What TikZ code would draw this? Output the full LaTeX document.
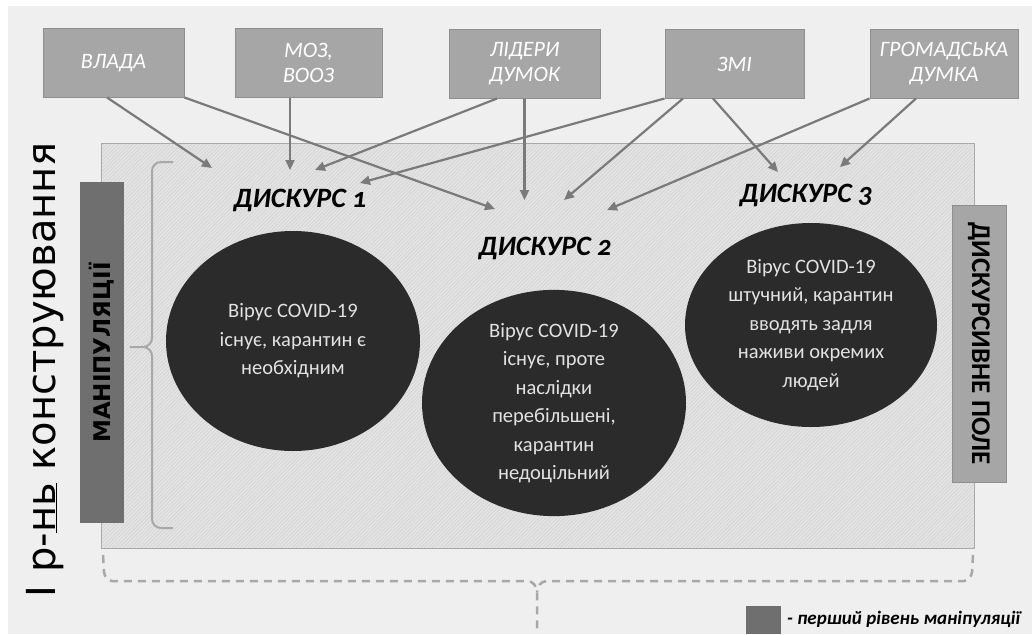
\documentclass[tikz,border=0pt]{standalone}
\usepackage{fontspec}
\setmainfont{Carlito}
\newfontfamily\dejavu{DejaVu Sans}
\newfontfamily\discfont[Numbers=OldStyle]{Carlito}
\usetikzlibrary{shapes.geometric,arrows.meta,patterns.meta}
\definecolor{bgc}{HTML}{EFEFEF}
\definecolor{fieldc}{HTML}{E4E4E4}
\definecolor{hatchc}{HTML}{D2D2D2}
\definecolor{fieldline}{HTML}{A9A9A9}
\definecolor{boxc}{HTML}{A6A6A6}
\definecolor{boxline}{HTML}{8E8E8E}
\definecolor{darkbox}{HTML}{6F6F6F}
\definecolor{arrc}{HTML}{7A7A7A}
\definecolor{ellc}{HTML}{2B2B2B}
\definecolor{elltext}{HTML}{E2E2E2}
\definecolor{bracec}{HTML}{A8A8A8}
\tikzset{
  topbox/.style={draw=boxline, line width=1pt, fill=boxc, text=white, align=center,
    minimum height=68pt, inner sep=0pt, font=\itshape\fontsize{22pt}{25pt}\selectfont},
  arr/.style={draw=arrc, line width=2.2pt, -{Triangle[length=10pt,width=9pt]}},
  discell/.style={ellipse, fill=ellc, text=elltext, align=center, inner sep=0pt,
    font=\fontsize{20.5pt}{28.5pt}\selectfont},
  disclabel/.style={font=\discfont\bfseries\itshape\fontsize{28pt}{30pt}\selectfont, inner sep=0pt},
  bracepath/.style={draw=bracec, line width=2pt},
  dashbrace/.style={draw=bracec, line width=2.5pt, dash pattern=on 8pt off 6pt}
}
\begin{document}
\begin{tikzpicture}[x=1pt,y=-1pt]
\useasboundingbox (0,0) rectangle (1032,634);
\fill[white] (0,0) rectangle (1032,634);
\fill[bgc] (8,6) rectangle (1032,634);

% discursive field
\fill[fieldc] (101,143) rectangle (974,548);
\fill[pattern={Lines[angle=45,distance=2.6pt,line width=0.6pt]}, pattern color=hatchc] (101,143) rectangle (974,548);
\node[draw=fieldline, line width=1pt, minimum width=873pt, minimum height=405pt, inner sep=0pt] (field) at (537.5,345.5) {};

% left big label
\node[rotate=90, anchor=base, inner sep=0pt, font=\dejavu\fontsize{40pt}{44pt}\selectfont] (level) at (55,370) {І р-\underline{нь} конструювання};

% manipulation box
\node[rotate=90, fill=darkbox, minimum width=341pt, minimum height=44pt, inner sep=0pt,
  font=\dejavu\bfseries\fontsize{23pt}{25pt}\selectfont] (manip) at (102,352.5) {МАНІПУЛЯЦІЇ};

% brace
\draw[bracepath] (173,162) -- (161,162) to[out=180,in=90] (152,171) -- (152,338)
  to[out=-90,in=0] (143,347) -- (130,347);
\draw[bracepath] (143,347) to[out=0,in=90] (152,356) -- (152,519) to[out=-90,in=180] (161,528) -- (173,528);

% discursive field label box
\node[rotate=-90, draw=boxline, line width=1pt, fill=boxc, minimum width=277pt, minimum height=54pt, inner sep=0pt,
  font=\bfseries\fontsize{27pt}{29pt}\selectfont] (pole) at (979,343.5) {ДИСКУРСИВНЕ ПОЛЕ};

% top boxes
\node[topbox, minimum width=141pt] (vlada) at (113.5,63) {ВЛАДА};
\node[topbox, minimum width=147pt] (moz) at (308.5,63) {МОЗ,\\ВООЗ};
\node[topbox, minimum width=151pt] (lid) at (524.5,64) {ЛІДЕРИ\\ДУМОК};
\node[topbox, minimum width=139pt] (zmi) at (734.5,64) {ЗМІ};
\node[topbox, minimum width=148pt] (hrom) at (944,64) {ГРОМАДСЬКА\\ДУМКА};

% discourse labels
\node[disclabel] (d1) at (300,200) {ДИСКУРС 1};
\node[disclabel] (d2) at (545,248) {ДИСКУРС 2};
\node[disclabel] (d3) at (806,195) {ДИСКУРС 3};

% arrow targets
\coordinate (t1) at (212,168);
\coordinate (t2) at (495,209);
\coordinate (t3) at (290,170);
\coordinate (t4) at (315,170);
\coordinate (t5) at (360,183);
\coordinate (t6) at (524.5,200);
\coordinate (t7) at (564,200);
\coordinate (t8) at (607,210);
\coordinate (t9) at (778,172);
\coordinate (t10) at (840,167);

\draw[arr] ([xshift=-6.5pt]vlada.south) -- (t1);
\draw[arr] (vlada.south east) -- (t2);
\draw[arr] ([xshift=-18.5pt]moz.south) -- (t3);
\draw[arr] ([xshift=-27.5pt]lid.south) -- (t4);
\draw[arr] (lid.south) -- (t6);
\draw[arr] (zmi.south west) -- (t5);
\draw[arr] ([xshift=-51.5pt]zmi.south) -- (t7);
\draw[arr] ([xshift=-21.5pt]zmi.south) -- (t9);
\draw[arr] (hrom.south west) -- (t8);
\draw[arr] ([xshift=-28pt]hrom.south) -- (t10);

% ellipses
\node[discell, minimum width=254pt, minimum height=220pt] (e1) at (293,341)
  {Вірус COVID-19\\існує, карантин є\\необхідним};
\node[discell, minimum width=264pt, minimum height=214pt] (e2) at (554,403)
  {Вірус COVID-19\\існує, проте\\наслідки\\перебільшені,\\карантин\\недоцільний};
\node[discell, minimum width=252pt, minimum height=204pt] (e3) at (811,325)
  {Вірус COVID-19\\штучний, карантин\\вводять задля\\наживи окремих\\людей};

% dashed brace below
\coordinate (btip) at (537,634);
\draw[dashbrace] (103,555) -- (104,572) to[out=-80,in=180] (112,581) -- (527,581)
  to[out=0,in=90] (537,592) -- (btip);
\draw[dashbrace] (973,555) -- (972,572) to[out=-100,in=0] (964,581) -- (547,581)
  to[out=180,in=90] (537,592);

% legend
\node[fill=darkbox, minimum width=35pt, minimum height=28pt, inner sep=0pt] (leg) at (763.5,620) {};
\node[anchor=base west, inner sep=0pt, font=\bfseries\itshape\fontsize{19pt}{21pt}\selectfont] (legtext)
  at (787,624) {- перший рівень маніпуляції};
\end{tikzpicture}
\end{document}
